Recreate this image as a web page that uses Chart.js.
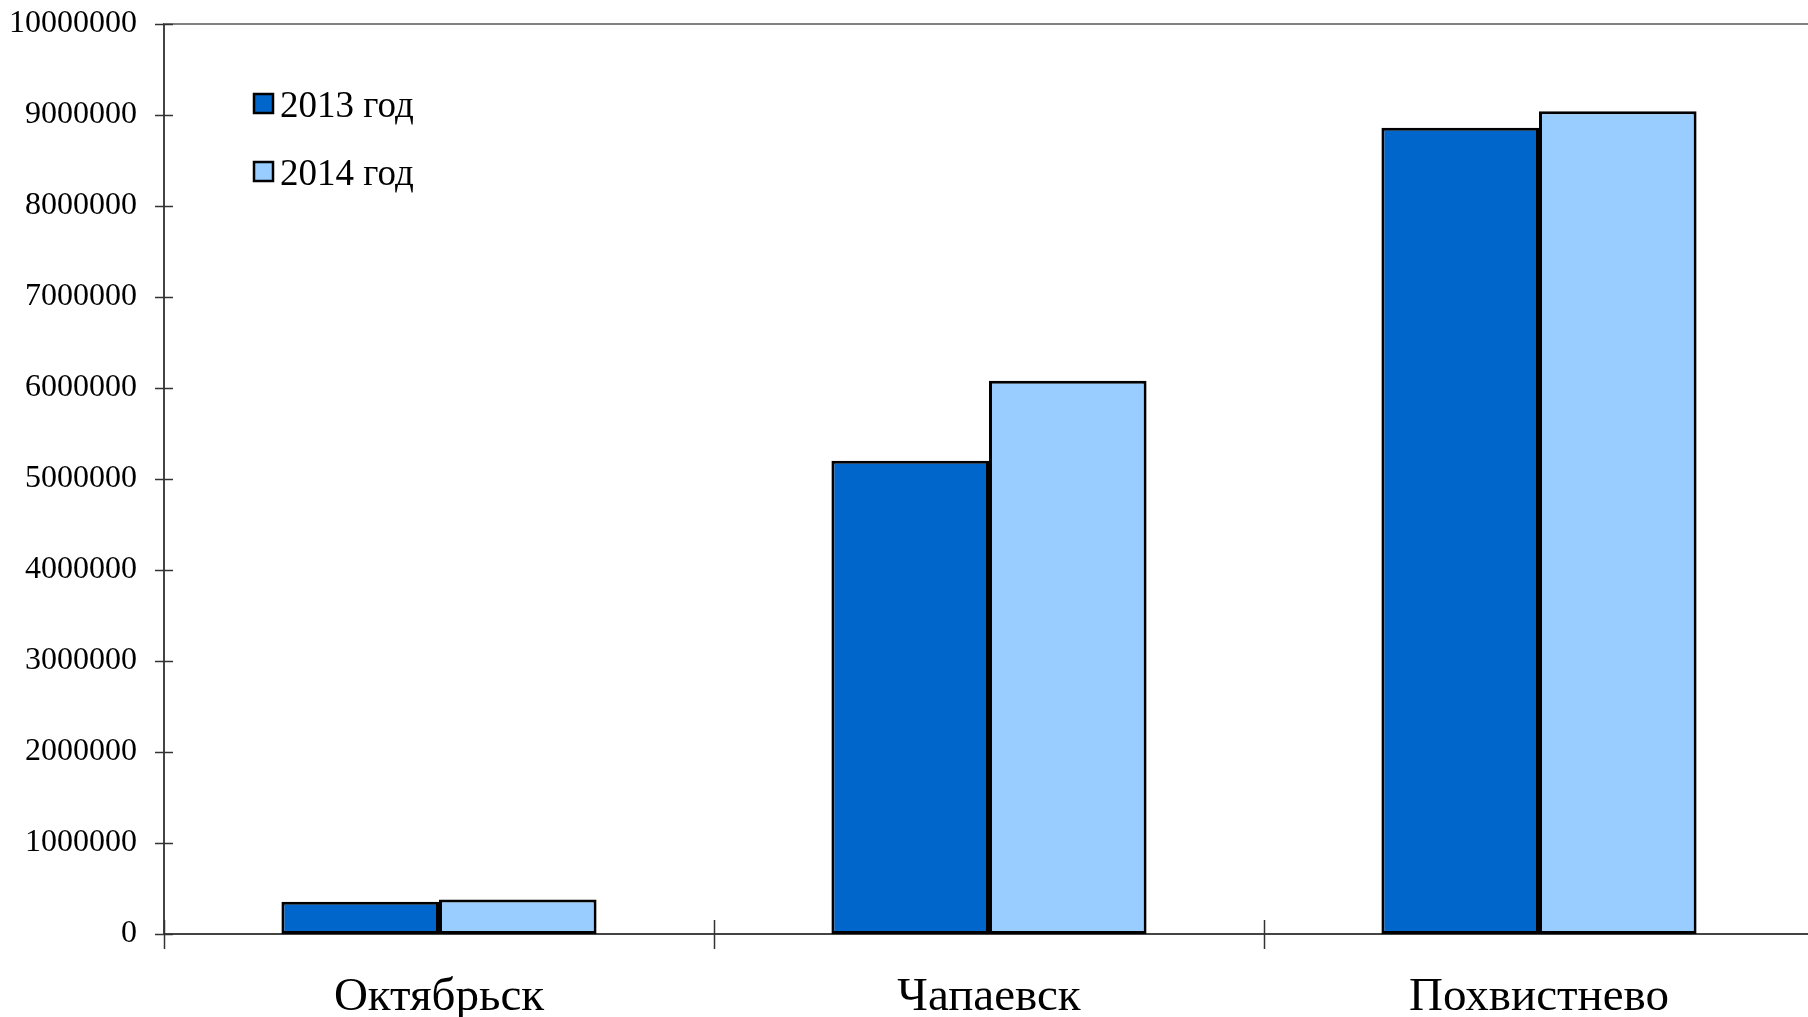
<!DOCTYPE html>
<html lang="ru">
<head>
<meta charset="utf-8">
<title>Chart</title>
<script src="https://cdn.jsdelivr.net/npm/chart.js@4/dist/chart.umd.min.js"></script>
<style>
  html, body { margin: 0; padding: 0; background: #fff; overflow: hidden; }
  canvas { display: block; }
</style>
</head>
<body>
<canvas id="chart" width="1814" height="1017"></canvas>
<script>
// Categories and values
const cities = ["Октябрьск", "Чапаевск", "Похвистнево"];
const seriesNames = ["2013 год", "2014 год"];
const values2013 = [355000, 5200000, 8860000];
const values2014 = [380000, 6080000, 9040000];
const yTicks = [0, 1000000, 2000000, 3000000, 4000000, 5000000, 6000000, 7000000, 8000000, 9000000, 10000000];

const colors = ["#0066CC", "#99CCFF"];
const serif = "'Liberation Serif', 'Times New Roman', serif";

// Cross ticks on both axes, the top border line and the legend
const decorations = {
  id: "decorations",
  afterDraw(chart) {
    const ctx = chart.ctx;
    const x = chart.scales.x, y = chart.scales.y;
    const area = chart.chartArea;
    ctx.save();

    // top border
    ctx.strokeStyle = "#808080";
    ctx.lineWidth = 2;
    ctx.beginPath();
    ctx.moveTo(area.left, area.top);
    ctx.lineTo(chart.width, area.top);
    ctx.stroke();

    ctx.strokeStyle = "#333333";
    ctx.lineWidth = 1.5;
    // y ticks cross the axis
    y.ticks.forEach((t, i) => {
      const py = Math.round(y.getPixelForTick(i)) + 0.5;
      ctx.beginPath();
      ctx.moveTo(area.left - 9, py);
      ctx.lineTo(area.left + 9, py);
      ctx.stroke();
    });
    // category ticks between groups
    for (let i = 0; i <= cities.length; i++) {
      const px = Math.round(x.getPixelForValue(i - 0.5)) + 0.5;
      ctx.beginPath();
      ctx.moveTo(px, area.bottom - 14);
      ctx.lineTo(px, area.bottom + 15);
      ctx.stroke();
    }

    // legend
    ctx.font = "37px " + serif;
    ctx.textBaseline = "alphabetic";
    chart.data.datasets.forEach((ds, i) => {
      const top = 94 + i * 68;
      ctx.fillStyle = ds.backgroundColor;
      ctx.fillRect(254, top, 19, 19);
      ctx.strokeStyle = "#000";
      ctx.lineWidth = 2.5;
      ctx.strokeRect(254, top, 19, 19);
      ctx.fillStyle = "#000";
      ctx.fillText(ds.label, 280, top + 23);
    });
    ctx.restore();
  }
};

new Chart(document.getElementById("chart"), {
  type: "bar",
  data: {
    labels: cities,
    datasets: [
      { label: seriesNames[0], data: values2013, backgroundColor: colors[0] },
      { label: seriesNames[1], data: values2014, backgroundColor: colors[1] }
    ]
  },
  options: {
    responsive: false,
    animation: false,
    layout: { padding: { top: 24, right: 0, left: 0, bottom: 0 } },
    datasets: {
      bar: {
        borderColor: "#000000",
        borderWidth: 3,
        borderSkipped: false,
        categoryPercentage: 0.573,
        barPercentage: 1
      }
    },
    plugins: {
      legend: { display: false },
      tooltip: { enabled: false }
    },
    scales: {
      x: {
        offset: true,
        grid: { display: false, drawTicks: false },
        border: { display: true, color: "#444444", width: 2 },
        ticks: {
          color: "#000",
          font: { family: serif, size: 47 },
          padding: 35,
          maxRotation: 0
        },
        afterFit(scale) {
          scale.height = 83;
          scale.paddingLeft = 0;
          scale.paddingRight = 0;
        }
      },
      y: {
        min: 0,
        max: 10000000,
        afterBuildTicks(scale) {
          scale.ticks = yTicks.map(v => ({ value: v }));
        },
        grid: { display: false, drawTicks: false },
        border: { display: true, color: "#444444", width: 2 },
        ticks: {
          color: "#000",
          font: { family: serif, size: 32 },
          padding: 27,
          callback: v => String(v)
        },
        afterFit(scale) {
          scale.width = 164;
          scale.paddingTop = 0;
          scale.paddingBottom = 0;
        }
      }
    }
  },
  plugins: [decorations]
});
</script>
</body>
</html>
